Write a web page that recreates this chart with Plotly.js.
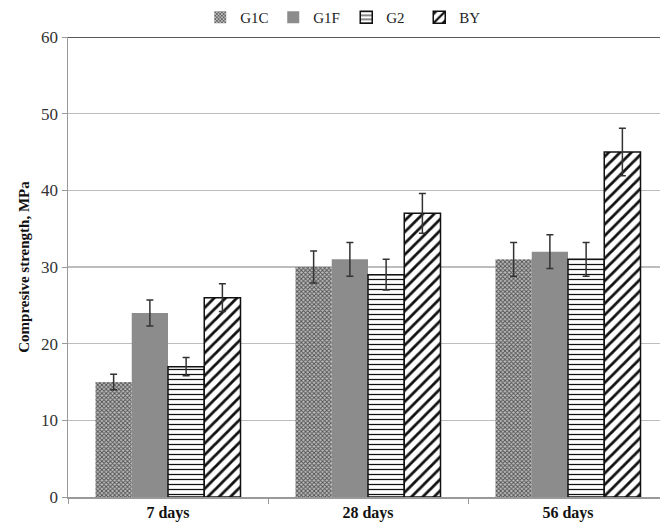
<!DOCTYPE html>
<html>
<head>
<meta charset="utf-8">
<script src="https://cdn.plot.ly/plotly-3.0.1.min.js"></script>
<style>html,body{margin:0;padding:0;background:#fff;}#chart{width:660px;height:526px;}</style>
</head>
<body>
<div id="chart"></div>
<script>
const categories = ["7 days", "28 days", "56 days"];
const seriesNames = ["G1C", "G1F", "G2", "BY"];
const g1c = [15, 30, 31];
const g1f = [24, 31, 32];
const g2 = [17, 29, 31];
const by = [26, 37, 45];
const g1cErr = [1.0, 2.1, 2.2];
const g1fErr = [1.7, 2.2, 2.2];
const g2Err = [1.2, 2.0, 2.2];
const byErr = [1.8, 2.6, 3.1];
const yTicks = [0, 10, 20, 30, 40, 50, 60];

const errStyle = arr => ({type: 'data', array: arr, visible: true, color: '#333', thickness: 1.5, width: 3.5});

const traces = [
  {type: 'bar', name: seriesNames[0], x: categories, y: g1c, error_y: errStyle(g1cErr),
   marker: {color: '#9a9a9a', line: {width: 0},
     pattern: {shape: 'x', size: 3, solidity: 0.5, fgcolor: '#505050', bgcolor: '#bdbdbd', fillmode: 'replace'}}},
  {type: 'bar', name: seriesNames[1], x: categories, y: g1f, error_y: errStyle(g1fErr),
   marker: {color: '#8c8c8c', line: {width: 0}}},
  {type: 'bar', name: seriesNames[2], x: categories, y: g2, error_y: errStyle(g2Err),
   marker: {color: '#ffffff', line: {width: 1.5, color: '#111'},
     pattern: {shape: '-', size: 5, solidity: 0.25, fgcolor: '#111', bgcolor: '#ffffff', fillmode: 'replace'}}},
  {type: 'bar', name: seriesNames[3], x: categories, y: by, error_y: errStyle(byErr),
   marker: {color: '#ffffff', line: {width: 1.5, color: '#111'},
     pattern: {shape: '/', size: 8, solidity: 0.35, fgcolor: '#111', bgcolor: '#ffffff', fillmode: 'replace'}}}
];

const layout = {
  width: 660, height: 526,
  margin: {l: 68, r: 0, t: 37, b: 29},
  paper_bgcolor: '#fff', plot_bgcolor: '#fff',
  font: {family: 'Liberation Serif, serif', color: '#222'},
  barmode: 'group', bargap: 0.275, bargroupgap: 0,
  showlegend: true,
  legend: {orientation: 'h', x: 0.47, xanchor: 'center', y: 1.078, yanchor: 'top',
    font: {size: 15, family: 'Liberation Serif, serif', color: '#222'}, itemwidth: 30, entrywidth: 28, tracegroupgap: 0},
  xaxis: {type: 'category', range: [-0.5, 2.46], tickson: 'boundaries', ticks: 'outside', ticklen: 5,
    tickcolor: '#999', showline: true, linecolor: '#999', linewidth: 1.5, showgrid: false, zeroline: false,
    tickfont: {size: 16, family: 'Liberation Serif, serif', color: '#111', weight: 'bold'}},
  yaxis: {range: [0, 60], tickvals: yTicks, ticks: 'outside', ticklen: 5, tickcolor: '#999',
    showline: true, linecolor: '#999', linewidth: 1.5, gridcolor: '#bdbdbd', gridwidth: 1.5, zeroline: false,
    tickfont: {size: 17, family: 'Liberation Serif, serif', color: '#333'},
    title: {text: '<b>Compresive strength, MPa</b>', font: {size: 15, family: 'Liberation Serif, serif', color: '#111'}, standoff: 8}},
  shapes: [{type: 'line', xref: 'paper', yref: 'y', x0: 0, x1: 1, y0: 60, y1: 60, line: {color: '#222', width: 1.5}}]
};

Plotly.newPlot('chart', traces, layout, {displayModeBar: false, staticPlot: true});
</script>
</body>
</html>
